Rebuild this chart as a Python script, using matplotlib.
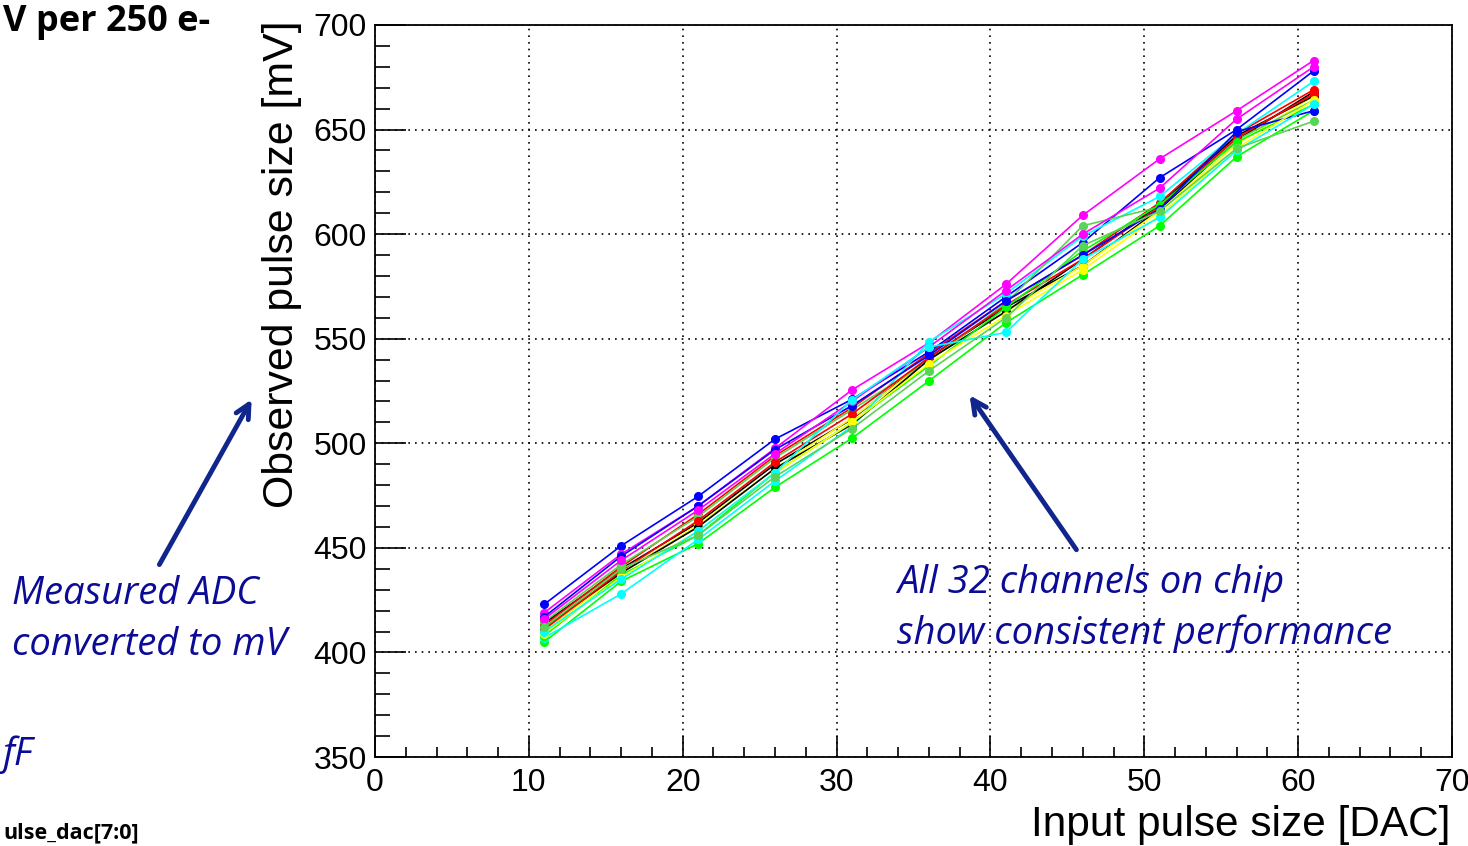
import matplotlib
matplotlib.use('Agg')
import matplotlib.pyplot as plt
from matplotlib.ticker import MultipleLocator

# input pulse (DAC) and observed pulse size (mV), channels coloured like ROOT colours 1..8
dac = [11, 16, 21, 26, 31, 36, 41, 46, 51, 56, 61]

black1 = [414, 440, 462, 490, 511.5, 541, 565, 585, 612, 645, 668]
black2 = [412, 438, 460, 488, 509, 540, 563, 588, 614, 647, 666]
red1 = [413, 441, 466, 494, 517, 543, 568, 590, 615, 648, 669]
red2 = [411, 439, 463, 491, 514, 541, 566, 588, 613, 646, 667]
green1 = [405, 434, 452, 479, 502.4, 529.8, 557.6, 580.6, 604, 637, 659]
green2 = [408, 437, 456, 486, 510, 537, 565, 592, 614, 644, 662]
blue1 = [423, 451, 474.6, 502, 521, 543.7, 570, 596, 627, 650, 678]
blue2 = [417, 446, 470, 497, 518, 542, 568, 590, 612, 649, 659]
yellow1 = [410, 438, 461, 488, 512, 540, 563, 585, 611, 643, 666]
yellow2 = [409, 436, 458, 486, 510, 538, 561, 583, 609, 641, 664]
magenta1 = [419, 447, 470, 497.6, 525.5, 548, 576, 609, 636, 659, 683]
magenta2 = [416, 444, 468, 495, 520, 546, 573, 600, 622, 655, 680]
cyan1 = [407, 428, 454, 482, 508, 548.5, 571.5, 599, 618, 648, 673]
cyan2 = [410, 435, 458, 486, 520.7, 546, 553, 588, 608, 640, 662]
lgreen1 = [414.7, 442, 465, 493, 516, 539.4, 567, 604, 613, 645, 664]
lgreen2 = [412, 440, 456, 484, 507, 534.6, 560, 594.5, 611, 641, 654]

channels = [
    (black1, '#000000'), (red1, '#ff0000'), (green1, '#00ff00'), (blue1, '#0000ff'),
    (yellow1, '#ffff00'), (magenta1, '#ff00ff'), (cyan1, '#00ffff'), (lgreen1, '#59d454'),
    (black2, '#000000'), (red2, '#ff0000'), (green2, '#00ff00'), (blue2, '#0000ff'),
    (yellow2, '#ffff00'), (magenta2, '#ff00ff'), (cyan2, '#00ffff'), (lgreen2, '#59d454'),
]

plt.rcParams['font.family'] = ['Liberation Sans', 'DejaVu Sans']

fig = plt.figure(figsize=(14.68, 8.46), dpi=100)
ax = fig.add_axes([375/1468, 1-757/846, 1077/1468, 732/846])

for vals, col in channels:
    ax.plot(dac, vals, color=col, lw=1.2, marker='o', ms=5.5, mec=col, mfc=col, zorder=3)

ax.set_xlim(0, 70)
ax.set_ylim(350, 700)
ax.xaxis.set_major_locator(MultipleLocator(10))
ax.xaxis.set_minor_locator(MultipleLocator(2))
ax.yaxis.set_major_locator(MultipleLocator(50))
ax.yaxis.set_minor_locator(MultipleLocator(10))
ax.grid(True, which='major', color='black', lw=1.2, linestyle=(0, (1, 3)), zorder=1)
ax.tick_params(axis='x', which='major', direction='in', length=15, width=1.2, labelsize=23, pad=8)
ax.tick_params(axis='x', which='minor', direction='in', length=7, width=1.2)
ax.tick_params(axis='y', which='major', direction='in', length=22, width=1.2, labelsize=23, pad=6)
ax.tick_params(axis='y', which='minor', direction='in', length=11, width=1.2)
for s in ax.spines.values():
    s.set_linewidth(1.3)

fig.text(1450/1468, 1-825/846, 'Input pulse size [DAC]', ha='right', va='center', fontsize=30.5)
fig.text(282/1468, 1-20/846, 'Observed pulse size [mV]', rotation=90, ha='center', va='top', fontsize=30.8)

# slide annotations
navy = '#0b0b96'
arrow_col = '#10268c'
note = dict(color=navy, fontsize=27.5, style='italic', family='Open Sans', va='center')
fig.text(12/1468, 1-594/846, 'Measured ADC', ha='left', **note)
fig.text(12/1468, 1-645/846, 'converted to mV', ha='left', **note)
fig.text(897/1468, 1-583/846, 'All 32 channels on chip', ha='left', **note)
fig.text(897/1468, 1-634/846, 'show consistent performance', ha='left', **note)
fig.text(2/1468, 1-755/846, 'fF', ha='left', **note)
fig.text(3/1468, 1-22/846, 'V per 250 e-', color='black', fontsize=26, weight='bold',
         family='Open Sans', ha='left', va='center')
fig.text(3/1468, 1-833/846, 'ulse_dac[7:0]', color='black', fontsize=15.5, weight='bold',
         family='Open Sans', ha='left', va='center')

ap = dict(arrowstyle='->,head_length=1.0,head_width=0.5', lw=3.5, color=arrow_col)
ax.annotate('', xy=(253, 846-397), xytext=(158, 846-567), xycoords='figure pixels',
            textcoords='figure pixels', arrowprops=ap)
ax.annotate('', xy=(968, 846-393), xytext=(1078, 846-552), xycoords='figure pixels',
            textcoords='figure pixels', arrowprops=ap)

fig.savefig('out.png', dpi=100)
